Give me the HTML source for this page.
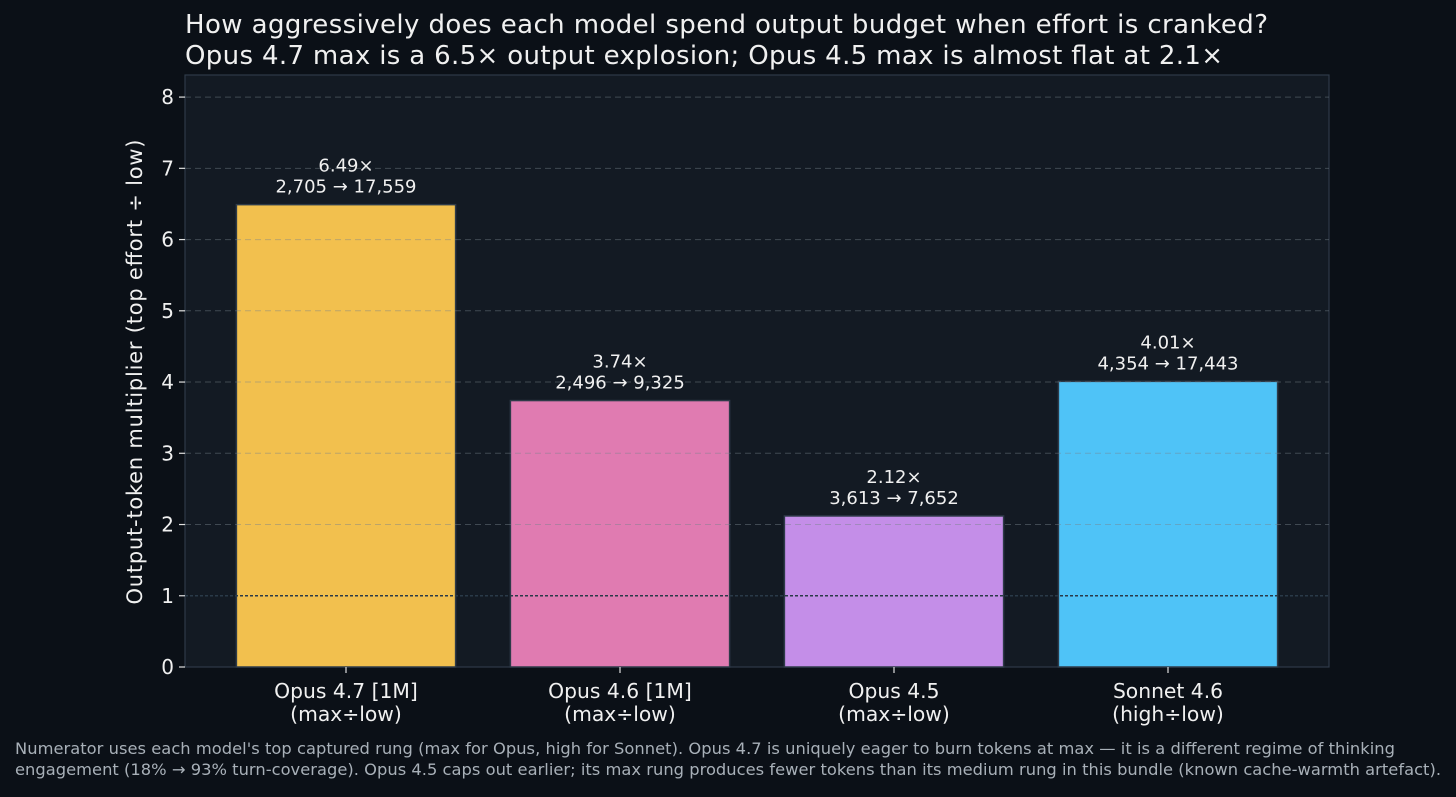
<!DOCTYPE html>
<html><head><meta charset="utf-8">
<style>
html,body{margin:0;padding:0;background:#0b1017;}
body{width:1456px;height:793px;overflow:hidden;font-family:"DejaVu Sans","Liberation Sans",sans-serif;}
svg text{font-family:"DejaVu Sans","Liberation Sans",sans-serif;}
</style></head>
<body>
<svg id="chart" width="1456" height="793" xmlns="http://www.w3.org/2000/svg">
<rect x="0" y="0" width="1456" height="793" fill="#0b1017"/>
<text x="185" y="33" fill="#f0f0f0" font-size="26" textLength="1083">How aggressively does each model spend output budget when effort is cranked?</text>
<text x="185" y="64" fill="#f0f0f0" font-size="26" textLength="1038">Opus 4.7 max is a 6.5× output explosion; Opus 4.5 max is almost flat at 2.1×</text>
<rect x="185" y="75" width="1144" height="592" fill="#131a23" stroke="#2e3a48" stroke-width="1.2"/>
<g id="bars"></g>
<g id="grid"></g>
<g id="labels"></g>
<g id="yaxis"></g>
<g id="xaxis"></g>
<text transform="translate(142,372) rotate(-90)" text-anchor="middle" fill="#f0f0f0" font-size="21" textLength="465">Output-token multiplier (top effort ÷ low)</text>
<text x="15" y="754" fill="#a8b0b8" font-size="16.3" textLength="1380">Numerator uses each model's top captured rung (max for Opus, high for Sonnet). Opus 4.7 is uniquely eager to burn tokens at max — it is a different regime of thinking</text>
<text x="15" y="775" fill="#a8b0b8" font-size="16.3" textLength="1426">engagement (18% → 93% turn-coverage). Opus 4.5 caps out earlier; its max rung produces fewer tokens than its medium rung in this bundle (known cache-warmth artefact).</text>
</svg>
<script>
const categories = ["Opus 4.7 [1M]", "Opus 4.6 [1M]", "Opus 4.5", "Sonnet 4.6"];
const ratioLabels = ["(max÷low)", "(max÷low)", "(max÷low)", "(high÷low)"];
const multipliers = [6.49, 3.74, 2.12, 4.01];
const lowTokens = ["2,705", "2,496", "3,613", "4,354"];
const topTokens = ["17,559", "9,325", "7,652", "17,443"];
const barColors = ["#f2c04e", "#e07bb1", "#c48ee8", "#4fc3f7"];
const yTicks = [0, 1, 2, 3, 4, 5, 6, 7, 8];

const NS = "http://www.w3.org/2000/svg";
const plotL = 185, plotR = 1329, plotT = 75, plotB = 667;
const yMax = 8.31;
function yScale(v){ return plotB - v / yMax * (plotB - plotT); }
const step = 274, x0 = 346;
function xScale(i){ return x0 + i * step; }
const barW = step * 0.8;

function mk(tag, attrs, parent){
  const el = document.createElementNS(NS, tag);
  for (const k in attrs) el.setAttribute(k, attrs[k]);
  parent.appendChild(el);
  return el;
}
const gBars = document.getElementById("bars");
const gGrid = document.getElementById("grid");
const gLab = document.getElementById("labels");
const gY = document.getElementById("yaxis");
const gX = document.getElementById("xaxis");

multipliers.forEach((v, i) => {
  const y = yScale(v);
  const r = mk("rect", {x: xScale(i) - barW/2, y: y, width: barW, height: plotB - y, fill: barColors[i], stroke: "#2e3a48", "stroke-width": 1.5}, gBars);
  
  
  const t1 = mk("text", {x: xScale(i), y: y - 33, "text-anchor": "middle", fill: "#f0f0f0", "font-size": 18}, gLab);
  t1.textContent = v.toFixed(2) + "×";
  
  
  const t2 = mk("text", {x: xScale(i), y: y - 12, "text-anchor": "middle", fill: "#f0f0f0", "font-size": 18}, gLab);
  t2.textContent = lowTokens[i] + " → " + topTokens[i];
  
  
  mk("line", {x1: xScale(i), x2: xScale(i), y1: plotB, y2: plotB + 6, stroke: "#e0e0e0", "stroke-width": 1.2}, gX);
  const c1 = mk("text", {x: xScale(i), y: 698, "text-anchor": "middle", fill: "#f0f0f0", "font-size": 20.3}, gX);
  c1.textContent = categories[i];
  
  
  const c2 = mk("text", {x: xScale(i), y: 721, "text-anchor": "middle", fill: "#f0f0f0", "font-size": 20.3}, gX);
  c2.textContent = ratioLabels[i];
  
  
});

yTicks.forEach(v => {
  const y = yScale(v);
  if (v > 0 && v !== 1) {
    const gl = mk("line", {x1: plotL, x2: plotR, y1: y, y2: y, stroke: "rgba(120,130,140,0.45)", "stroke-width": 1, "stroke-dasharray": "6,4"}, gGrid);
    
    
  }
  mk("line", {x1: plotL - 6, x2: plotL, y1: y, y2: y, stroke: "#e0e0e0", "stroke-width": 1.2}, gY);
  const t = mk("text", {x: plotL - 11, y: y + 7, "text-anchor": "end", fill: "#f0f0f0", "font-size": 20}, gY);
  t.textContent = v;
  
  
});
const ref = mk("line", {x1: plotL, x2: plotR, y1: yScale(1), y2: yScale(1), stroke: "#2a3a48", "stroke-width": 1.5, "stroke-dasharray": "3,2"}, gGrid);


</script>
</body></html>
